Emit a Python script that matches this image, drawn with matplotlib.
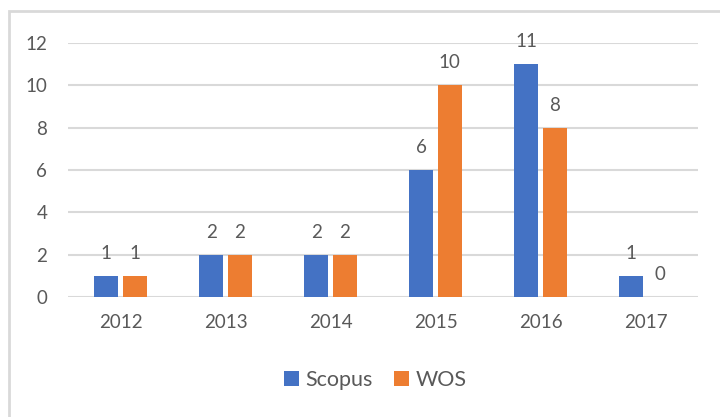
import numpy as np
import matplotlib.pyplot as plt
from matplotlib.patches import Rectangle

years = ['2012', '2013', '2014', '2015', '2016', '2017']
scopus = [1, 2, 2, 6, 11, 1]
wos = [1, 2, 2, 10, 8, 0]

plt.rcParams['font.family'] = ['Lato', 'DejaVu Sans']
text_col = '#595959'
blue = '#4472C4'
orange = '#ED7D31'

fig = plt.figure(figsize=(7.2, 4.17), dpi=100)
ax = fig.add_axes([68 / 720, 1 - 297 / 417, 630 / 720, 254 / 417])

x = np.arange(len(years))
w = 0.23
b1 = ax.bar(x - 0.135, scopus, w, color=blue, label='Scopus', zorder=3)
b2 = ax.bar(x + 0.135, wos, w, color=orange, label='WOS', zorder=3)

for bars, vals in ((b1, scopus), (b2, wos)):
    for r, v in zip(bars, vals):
        ax.annotate(str(v), (r.get_x() + r.get_width() / 2, v),
                    xytext=(0, 10), textcoords='offset points',
                    ha='center', va='bottom', fontsize=13.5, color=text_col)

ax.set_xlim(-0.5, len(years) - 0.5)
ax.set_ylim(0, 12)
ax.set_yticks(range(0, 13, 2))
ax.set_xticks(x)
ax.set_xticklabels(years)
ax.tick_params(length=0, labelsize=13.5, colors=text_col)
ax.tick_params(axis='y', pad=15)
ax.tick_params(axis='x', pad=12)
ax.grid(axis='y', color='#d9d9d9', linewidth=1.5, zorder=0)
for s in ax.spines.values():
    s.set_visible(False)

fig.legend(handles=[b1, b2], loc='center', bbox_to_anchor=(375 / 720, 1 - 380 / 417),
           ncol=2, frameon=False, fontsize=15.5, labelcolor=text_col,
           handlelength=0.7, handleheight=0.7, handletextpad=0.3, columnspacing=1.0)

# outer chart border (cropped on right and bottom in the reference)
fig.patches.append(Rectangle((9 / 720, -0.1), 1.2, 1 - 11 / 417 + 0.1,
                             transform=fig.transFigure, fill=False,
                             edgecolor='#d9d9d9', linewidth=2))

fig.savefig('out.png', dpi=100)
